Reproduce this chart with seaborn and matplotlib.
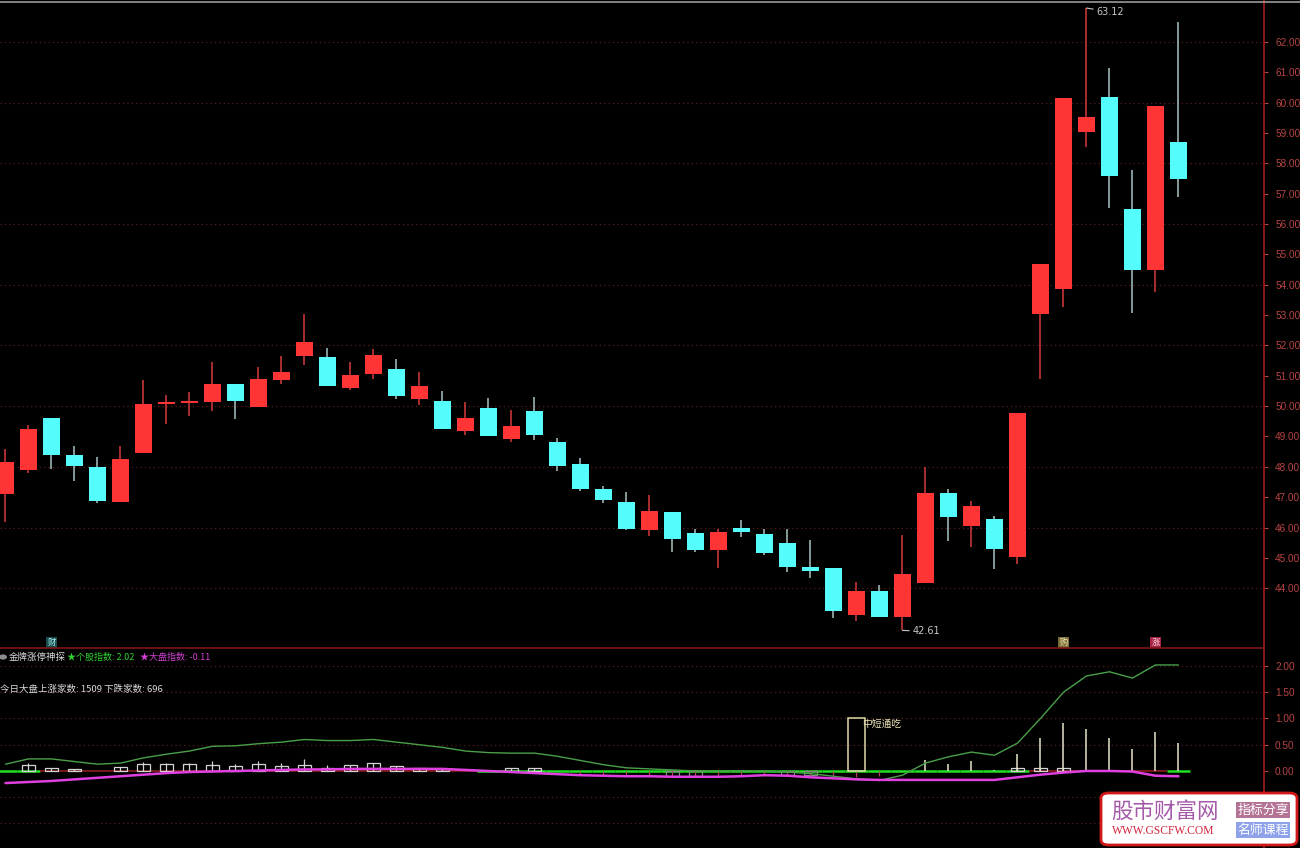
import numpy as np
import matplotlib
matplotlib.use("Agg")
import matplotlib.pyplot as plt
import pandas as pd
import seaborn as sns
from matplotlib.patches import Rectangle, FancyBboxPatch, Circle

# K线数据 (开盘, 收盘, 最高, 最低)
opens = [47.10, 47.89, 49.60, 48.38, 47.99, 46.84, 48.45, 50.06, 50.12, 50.13,
         50.72, 49.96, 50.85, 51.64, 51.61, 50.59, 51.05, 51.24, 50.22, 50.16,
         49.17, 49.93, 48.91, 49.83, 48.81, 48.09, 47.26, 46.84, 45.91, 46.51,
         45.82, 45.26, 45.98, 45.78, 45.49, 44.70, 44.66, 43.12, 43.91, 43.05,
         44.16, 47.13, 46.05, 46.28, 45.03, 53.05, 53.87, 59.04, 60.19, 56.51,
         54.50, 58.70]
closes = [48.15, 49.24, 48.38, 48.02, 46.87, 48.25, 50.06, 50.13, 50.13, 50.72,
          50.16, 50.88, 51.11, 52.10, 50.65, 51.01, 51.70, 50.32, 50.65, 49.24,
          49.60, 49.01, 49.34, 49.04, 48.02, 47.26, 46.90, 45.95, 46.54, 45.62,
          45.26, 45.85, 45.85, 45.16, 44.70, 44.57, 43.25, 43.91, 43.05, 44.47,
          47.13, 46.34, 46.70, 45.29, 49.76, 54.70, 60.16, 59.53, 57.59, 54.50,
          59.89, 57.48]
highs = [48.58, 49.37, 49.60, 48.68, 48.32, 48.68, 50.85, 50.36, 50.45, 51.44,
         50.72, 51.28, 51.64, 53.05, 51.93, 51.44, 51.87, 51.54, 51.14, 50.49,
         50.13, 50.26, 49.86, 50.29, 48.94, 48.28, 47.36, 47.16, 47.07, 46.51,
         45.95, 45.95, 46.24, 45.95, 45.95, 45.59, 44.66, 44.20, 44.11, 45.75,
         47.99, 47.26, 46.87, 46.38, 49.76, 54.70, 60.16, 63.12, 61.14, 57.79,
         59.89, 62.66]
lows = [46.18, 47.79, 47.92, 47.53, 46.80, 46.84, 48.45, 49.40, 49.66, 49.83,
        49.57, 49.96, 50.72, 51.34, 50.65, 50.52, 50.88, 50.22, 50.03, 49.24,
        49.04, 49.01, 48.81, 48.88, 47.86, 47.20, 46.80, 45.91, 45.72, 45.19,
        45.19, 44.66, 45.68, 45.09, 44.53, 44.34, 43.02, 42.92, 43.05, 42.61,
        44.16, 45.55, 45.35, 44.63, 44.80, 50.88, 53.28, 58.54, 56.54, 53.08,
        53.77, 56.89]

# 副图: 个股指数 / 大盘指数
stock_idx = [0.13, 0.23, 0.23, 0.18, 0.13, 0.15, 0.25, 0.32, 0.38, 0.47,
             0.48, 0.52, 0.55, 0.60, 0.58, 0.58, 0.60, 0.55, 0.50, 0.45,
             0.38, 0.35, 0.34, 0.34, 0.28, 0.20, 0.12, 0.06, 0.04, 0.02,
             0.00, 0.00, 0.00, 0.00, -0.02, -0.05, -0.10, -0.15, -0.18, -0.08,
             0.15, 0.27, 0.36, 0.30, 0.53, 1.00, 1.50, 1.81, 1.89, 1.77,
             2.02, 2.02]
market_idx = [-0.23, -0.21, -0.19, -0.16, -0.13, -0.10, -0.07, -0.04, -0.02, -0.01,
              0.00, 0.01, 0.02, 0.03, 0.03, 0.04, 0.04, 0.04, 0.04, 0.04,
              0.02, 0.00, -0.02, -0.04, -0.06, -0.08, -0.09, -0.10, -0.10, -0.11,
              -0.11, -0.11, -0.10, -0.08, -0.09, -0.12, -0.14, -0.16, -0.17, -0.17,
              -0.17, -0.17, -0.17, -0.17, -0.12, -0.07, -0.03, 0.00, 0.00, -0.01,
              -0.09, -0.10]

# 空心方框 (框高, 中线高)
box_top = [0, 0.11, 0.06, 0.04, 0, 0.07, 0.13, 0.13, 0.13, 0.12,
           0.10, 0.13, 0.10, 0.11, 0.06, 0.11, 0.15, 0.09, 0.05, 0.04,
           0, 0, 0.05, 0.05, 0, 0, 0, 0, 0, 0,
           0, 0, 0, 0, 0, 0, 0, 0, 0, 0,
           0, 0, 0, 0, 0.05, 0.06, 0.06, 0, 0, 0,
           0, 0]
box_mid = [0, 0.15, 0.06, 0.04, 0, 0.07, 0.17, 0.15, 0.15, 0.19,
           0.13, 0.19, 0.15, 0.23, 0.11, 0.11, 0.15, 0.09, 0.05, 0.04,
           0, 0, 0.05, 0.05, 0, 0, 0, 0, 0, 0,
           0, 0, 0, 0, 0, 0, 0, 0, 0, 0,
           0, 0, 0, 0, 0.05, 0.06, 0.06, 0, 0, 0,
           0, 0]
# 右侧竖线
stick = [0] * 40 + [0.21, 0.13, 0.19, 0.02, 0.32, 0.62, 0.92, 0.80, 0.63, 0.42, 0.74, 0.53]
# 零轴下方小竖线和灰框
neg_tick = [0] * 25 + [-0.08, -0.09, -0.08, -0.10, -0.09, -0.10, -0.09, -0.08, -0.10,
                       -0.09, -0.10, -0.09, -0.11, -0.10] + [0] * 13
neg_box = [0] * 29 + [-0.10, -0.10, 0, 0, 0, -0.08, -0.08] + [0] * 16
# 零轴颜色 1=绿 0=红
zero_up = [1, 1] + [0] * 19 + [1] * 24 + [0] * 6 + [1]

signal_bar = 37
signal_height = 1.0
signal_text = "中短通吃"

price_ticks = list(range(44, 63))
sub_ticks = [0.0, 0.5, 1.0, 1.5, 2.0]

RED = "#ff3434"
CYAN = "#54fcfc"
AXIS_RED = "#a01c1c"
LABEL_RED = "#b84444"
GRID = "#5a1c1c"

sns.set_theme(style="dark", rc={"axes.facecolor": "black", "figure.facecolor": "black"})
plt.rcParams["font.family"] = ["Noto Sans CJK SC", "DejaVu Sans"]

fig = plt.figure(figsize=(13, 8.48), dpi=100)
W, H = 1300, 848
ax = fig.add_axes([0, 200 / H, 1264 / W, 648 / H])
ax2 = fig.add_axes([0, 0, 1264 / W, 200 / H], sharex=ax)

x = np.arange(len(opens))
o, c = np.array(opens), np.array(closes)
hi, lo = np.array(highs), np.array(lows)
up = c >= o

# 主图 K线
ax.vlines(x[up], lo[up], hi[up], color="#d83a3a", lw=1.1, zorder=2)
ax.vlines(x[~up], lo[~up], hi[~up], color="#a8c4c4", lw=1.1, zorder=2)
ax.bar(x, np.maximum(np.abs(c - o), 0.05), bottom=np.minimum(o, c), width=0.76,
       color=np.where(up, RED, CYAN), zorder=3, linewidth=0)

for p in range(44, 63, 2):
    ax.axhline(p, color=GRID, lw=0.9, ls=(0, (1, 2.5)), zorder=1)

ax.set_xlim(-0.239, 54.72)
ax.set_ylim(42.03, 63.384)
ax.yaxis.tick_right()
ax.set_yticks(price_ticks)
ax.set_yticklabels([f"{v:.2f}" for v in price_ticks])

imax = int(np.argmax(hi))
ax.annotate(f"{hi[imax]:.2f}", xy=(imax, hi[imax]), xytext=(10, -4), textcoords="offset pixels",
            color="#c8c8c8", fontsize=7, family="DejaVu Sans", va="center", ha="left",
            arrowprops=dict(arrowstyle="-", color="#c8c8c8", lw=0.8, shrinkA=0, shrinkB=0))
imin = int(np.argmin(lo))
ax.annotate(f"{lo[imin]:.2f}", xy=(imin, lo[imin]), xytext=(10, -1), textcoords="offset pixels",
            color="#c8c8c8", fontsize=7, family="DejaVu Sans", va="center", ha="left",
            arrowprops=dict(arrowstyle="-", color="#c8c8c8", lw=0.8, shrinkA=0, shrinkB=0))

# 底部小标记
for xi, s, fc, tc in [(2, "财", "#1d4c4c", "#9ff0f0"), (46, "购", "#7c6c34", "#f4ecc0"),
                      (50, "涨", "#a82444", "#ffd8e4")]:
    ax.text(xi, 42.22, s, fontsize=6, color=tc, ha="center", va="center",
            bbox=dict(boxstyle="square,pad=0.12", fc=fc, ec="none"), zorder=5)

# 副图
ax2.set_ylim(-1.467, 2.343)
for v in [-1.0, -0.5, 0.5, 1.0, 1.5, 2.0]:
    ax2.axhline(v, color=GRID, lw=0.9, ls=(0, (1, 2.5)), zorder=1)

for i, g in enumerate(zero_up):
    ax2.hlines(0, i - 0.5, i + 0.5, color="#22e022" if g else "#8c1e1e", lw=1.8 if g else 1.2, zorder=2)

for i in range(len(box_top)):
    if box_top[i] > 0:
        ax2.add_patch(Rectangle((i - 0.27, 0), 0.54, box_top[i], fill=False, ec="#d4d4d4", lw=0.9, zorder=3))
        ax2.vlines(i, 0, box_mid[i], color="#d4d4d4", lw=0.9, zorder=3)
    if neg_box[i] < 0:
        ax2.add_patch(Rectangle((i - 0.27, neg_box[i]), 0.54, -neg_box[i], fill=False, ec="#8a8a8a", lw=0.9, zorder=3))
    if neg_tick[i] < 0:
        ax2.vlines(i, neg_tick[i], 0, color="#b04060", lw=0.9, zorder=3)
    if stick[i] > 0:
        ax2.vlines(i, 0, stick[i], color="#e8e4c8", lw=1.1, zorder=3)

ax2.add_patch(Rectangle((signal_bar - 0.38, 0), 0.76, signal_height, fill=False, ec="#e0d8a8", lw=1.1, zorder=3))
ax2.text(signal_bar + 0.25, signal_height - 0.1, signal_text, color="#ece4b4", fontsize=7, ha="left", va="center", zorder=4)

df = pd.DataFrame({"bar": x, "stock": stock_idx, "market": market_idx})
sns.lineplot(data=df, x="bar", y="stock", ax=ax2, color="#4aa04a", lw=1.0, zorder=4)
sns.lineplot(data=df, x="bar", y="market", ax=ax2, color="#e040e0", lw=1.8, zorder=4)

ax2.yaxis.tick_right()
ax2.set_yticks(sub_ticks)
ax2.set_yticklabels([f"{v:.2f}" for v in sub_ticks])
ax2.set_xlabel("")
ax2.set_ylabel("")

for a in (ax, ax2):
    a.set_facecolor("black")
    a.grid(False)
    for s in ("left", "top", "bottom"):
        a.spines[s].set_visible(False)
    a.spines["right"].set_visible(True)
    a.spines["right"].set_color(AXIS_RED)
    a.spines["right"].set_linewidth(1.2)
    a.tick_params(axis="y", colors=LABEL_RED, labelsize=7.2, length=3, width=0.8, pad=5,
                  labelcolor=LABEL_RED)
    a.tick_params(axis="x", bottom=False, labelbottom=False)
    for t in a.get_yticklabels():
        t.set_family("Liberation Sans")
ax2.spines["top"].set_visible(True)
ax2.spines["top"].set_color("#7a1818")
ax2.spines["top"].set_linewidth(1.2)

# 副图标题文字
def fx(px):
    return px / W

def fy(py):
    return 1 - py / H

fig.patches.append(Circle((fx(3), fy(657)), 4 / W, transform=fig.transFigure, fc="#8c8c8c", ec="none"))
fig.text(fx(9), fy(657), "金牌涨停神探", color="#d8d8d8", fontsize=6.8, va="center", ha="left")
fig.text(fx(67), fy(657), "★个股指数: 2.02", color="#30d030", fontsize=6.5, va="center", ha="left")
fig.text(fx(140), fy(657), "★大盘指数: -0.11", color="#d040d0", fontsize=6.5, va="center", ha="left")
fig.text(fx(0), fy(689), "今日大盘上涨家数: 1509 下跌家数: 696", color="#d8d8d8", fontsize=6.8,
         va="center", ha="left")

# 顶部细线
fig.add_artist(plt.Line2D([0, 1], [fy(1.5), fy(1.5)], color="#9a9a9a", lw=1.2, transform=fig.transFigure))

# 右下角水印
fig.patches.append(FancyBboxPatch((fx(1101), fy(845)), 196 / W, 52 / H,
                                  boxstyle="round,pad=0,rounding_size=0.006",
                                  transform=fig.transFigure, fc="white", ec="#d01818", lw=2, zorder=10))
fig.text(fx(1111), fy(812), "股市财富网", color="#a45aa8", fontsize=15.5, va="center", ha="left", zorder=11)
fig.text(fx(1112), fy(831), "WWW.GSCFW.COM", color="#d0243c", fontsize=8.3, family="Liberation Serif",
         va="center", ha="left", zorder=11)
fig.text(fx(1263), fy(810), "指标分享", color="white", fontsize=9.3, va="center", ha="center", zorder=11,
         bbox=dict(boxstyle="square,pad=0.12", fc="#b47496", ec="none"))
fig.text(fx(1263), fy(830), "名师课程", color="white", fontsize=9.3, va="center", ha="center", zorder=11,
         bbox=dict(boxstyle="square,pad=0.12", fc="#8ea2ea", ec="none"))

fig.savefig("out.png", dpi=100, facecolor="black")
